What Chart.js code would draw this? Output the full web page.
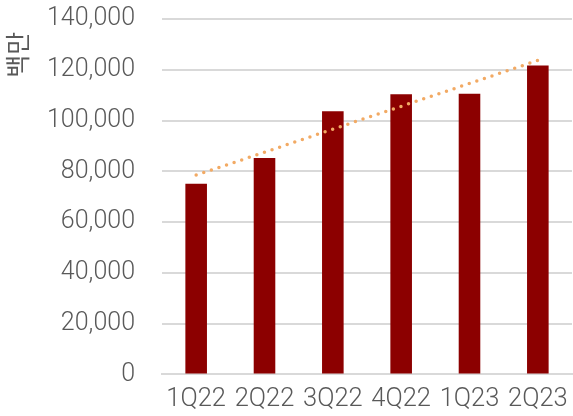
<!DOCTYPE html>
<html>
<head>
<meta charset="utf-8">
<script src="https://cdn.jsdelivr.net/npm/chart.js@4/dist/chart.umd.min.js"></script>
<style>
  html, body { margin: 0; padding: 0; background: #fff; }
  #wrap { width: 573px; height: 416px; }
</style>
</head>
<body>
<div id="wrap"><canvas id="chart" width="573" height="416"></canvas></div>
<script>
// quarterly figures, in millions
const quarters = ['1Q22', '2Q22', '3Q22', '4Q22', '1Q23', '2Q23'];
const revenue = [75100, 85200, 103700, 110400, 110600, 121700];
// linear trend values at each quarter
const trend = [78500, 87500, 96600, 105600, 114600, 123700];

const yMax = 140000;
const yStep = 20000;

const textGrey = '#595959';
const gridGrey = '#d9d9d9';
const fontFamily = 'Roboto, "Noto Sans CJK KR", sans-serif';

new Chart(document.getElementById('chart'), {
    type: 'bar',
    data: {
        labels: quarters,
        datasets: [
            {
                type: 'line',
                data: trend,
                borderColor: 'rgb(242,170,100)',
                borderWidth: 3.5,
                borderDash: [0, 8],
                borderCapStyle: 'round',
                pointRadius: 0,
                fill: false,
                order: 0
            },
            {
                data: revenue,
                backgroundColor: '#8C0000',
                categoryPercentage: 1,
                barPercentage: 0.316,
                order: 1
            }
        ]
    },
    options: {
        responsive: false,
        animation: false,
        layout: { padding: { left: 0, right: 1, top: 19, bottom: 1 } },
        plugins: { legend: { display: false }, tooltip: { enabled: false } },
        scales: {
            x: {
                // ticks kept for spacing only, drawn transparent
                grid: { display: false, drawTicks: true, tickLength: 10, tickColor: 'transparent' },
                border: { display: true, color: gridGrey, width: 2 },
                ticks: {
                    color: textGrey,
                    padding: 0,
                    font: { family: fontFamily, size: 25.5, weight: 300 }
                }
            },
            y: {
                min: 0,
                max: yMax,
                grid: { color: gridGrey, lineWidth: 2, drawTicks: true, tickLength: 27, tickColor: 'transparent' },
                border: { display: false },
                ticks: {
                    stepSize: yStep,
                    color: textGrey,
                    padding: 0,
                    font: { family: fontFamily, size: 25, weight: 300 },
                    callback: v => v.toLocaleString('en-US')
                },
                title: {
                    display: true,
                    text: '백만\u2002',
                    align: 'end',
                    color: textGrey,
                    padding: { top: 6, bottom: 11 },
                    font: { family: fontFamily, size: 25, weight: 'normal' }
                }
            }
        }
    }
});
</script>
</body>
</html>
